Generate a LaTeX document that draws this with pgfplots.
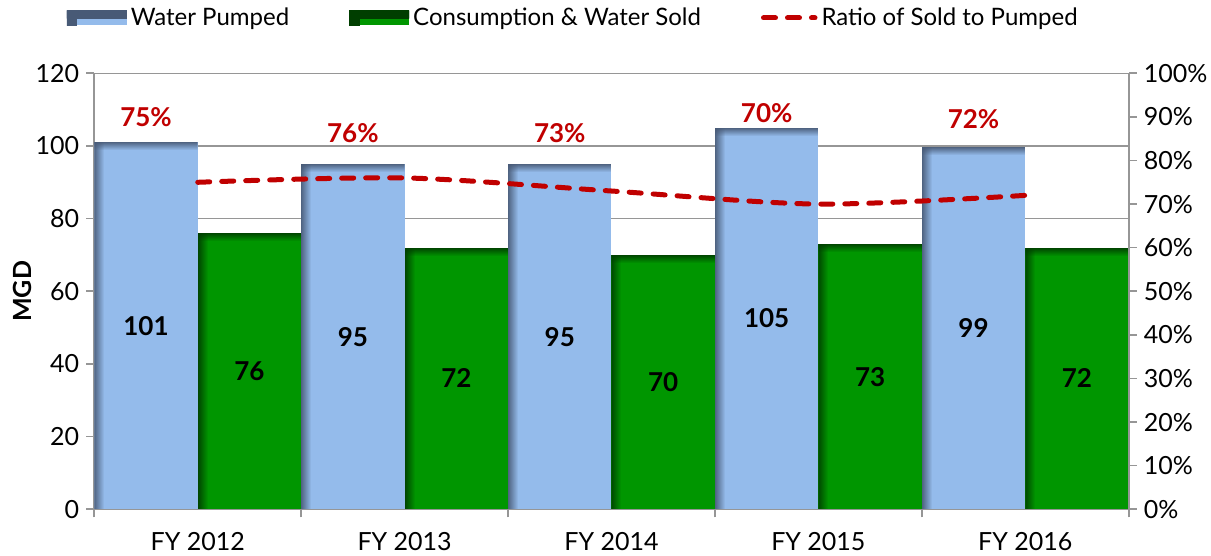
\documentclass[border=0pt]{standalone}
\usepackage{fontspec}
\setmainfont{Lato}
\usepackage{pgfplots}
\usepackage{pgfplotstable}
\pgfplotsset{compat=1.18}
\definecolor{wblue}{RGB}{148,187,235}
\definecolor{wbluedark}{RGB}{72,90,118}
\definecolor{wgreen}{RGB}{0,150,0}
\definecolor{wgreendark}{RGB}{0,62,0}
\definecolor{ratiored}{RGB}{192,0,0}
\definecolor{gridgray}{RGB}{150,150,150}

\pgfplotstableread{
x pumped plab sold ratio ply
0 101   101 76 75 108.0
1 95    95  72 76 103.6
2 95    95  70 73 103.6
3 105   105 73 70 109.0
4 99.7  99  72 72 107.4
}\data

\tikzset{
 edgeshade/.style={path picture={
   \foreach \i in {0,...,7}{
     \pgfmathsetmacro\o{0.9*(1-\i/8)}
     \fill[path picture={}, #1, fill opacity=\o]
       ([yshift=-\i*0.5pt]path picture bounding box.north west) rectangle
       ([yshift=-\i*0.5pt-0.5pt]path picture bounding box.north east);
   }
   \foreach \i in {0,...,9}{
     \pgfmathsetmacro\o{0.9*(1-\i/10)}
     \fill[path picture={}, #1, fill opacity=\o]
       ([xshift=\i*0.5pt]path picture bounding box.south west) rectangle
       ([xshift=\i*0.5pt+0.5pt]path picture bounding box.north west);
   }
 }},
 bluebar/.style={fill=wblue, draw=none, edgeshade=wbluedark},
 greenbar/.style={fill=wgreen, draw=none, edgeshade=wgreendark},
 ratioline/.style={ratiored, line width=2.5pt, line cap=round, dash pattern=on 6pt off 6pt},
}

\begin{document}
\begin{tikzpicture}[font=\fontsize{12.5}{14}\selectfont]
\useasboundingbox (-47.15pt,-23.35pt) rectangle (558.35pt,254.65pt);
\begin{axis}[
  at={(0pt,0pt)}, anchor=south west,
  scale only axis, width=517.2pt, height=218pt,
  xmin=-0.5, xmax=4.5, ymin=0, ymax=120,
  /pgf/number format/assume math mode=true,
  ytick={0,20,...,120},
  ymajorgrids, grid style={gridgray, line width=0.6pt},
  axis x line*=bottom, axis y line*=left,
  axis line style={gridgray, line width=0.8pt},
  tick align=outside, major tick length=4pt,
  tick style={gridgray, line width=0.8pt},
  xtick={0,...,4},
  xticklabels={FY 2012,FY 2013,FY 2014,FY 2015,FY 2016},
  xtick style={draw=none},
  extra x ticks={-0.5,0.5,1.5,2.5,3.5,4.5},
  extra x tick labels={},
  extra x tick style={xtick style={draw=gridgray}, grid=none},
  xticklabel style={yshift=-4pt},
  ylabel={MGD},
  every axis y label/.style={at={(axis description cs:-0.0696,0.5)}, rotate=90, anchor=center, font=\bfseries\fontsize{12.5}{14}\selectfont},
  legend style={at={(0.464,1.127)}, anchor=center, draw=none, fill=none,
    legend columns=3, font=\fontsize{12}{14}\selectfont,
    /tikz/every even column/.append style={column sep=28pt}},
  legend cell align=left,
]
\pgfplotsinvokeforeach{0,...,4}{
\addplot[ybar, bar width=0.5, bar shift=-0.25, bluebar, forget plot, restrict x to domain=#1:#1]
  table[x=x, y=pumped]{\data};
\addplot[ybar, bar width=0.5, bar shift=0.25, greenbar, forget plot, restrict x to domain=#1:#1]
  table[x=x, y=sold]{\data};
}
\addlegendimage{legend image code/.code={\path[bluebar] (0pt,-3.75pt) rectangle (30pt,3.75pt);}}
\addlegendentry{Water Pumped}
\addlegendimage{legend image code/.code={\path[greenbar] (0pt,-3.75pt) rectangle (30pt,3.75pt);}}
\addlegendentry{Consumption \& Water Sold}
\addlegendimage{legend image code/.code={\draw[ratioline] (1.25pt,0pt) -- (27pt,0pt);}}
\addlegendentry{Ratio of Sold to Pumped}
% value labels
\addplot[draw=none, mark=none, forget plot,
  point meta=\thisrow{plab}, nodes near coords,
  visualization depends on=y \as \rawy,
  every node near coord/.append style={anchor=center, text=black, font=\bfseries\fontsize{13}{15}\selectfont,
    shift={(axis direction cs:0,-\rawy/2)}}]
  table[x expr=\thisrow{x}-0.25, y=pumped]{\data};
\addplot[draw=none, mark=none, forget plot,
  point meta=\thisrow{sold}, nodes near coords,
  visualization depends on=y \as \rawy,
  every node near coord/.append style={anchor=center, text=black, font=\bfseries\fontsize{13}{15}\selectfont,
    shift={(axis direction cs:0,-\rawy/2)}}]
  table[x expr=\thisrow{x}+0.25, y=sold]{\data};
% percentage labels
\addplot[draw=none, mark=none, forget plot,
  point meta=\thisrow{ratio},
  nodes near coords={\pgfmathprintnumber{\pgfplotspointmeta}\%},
  every node near coord/.append style={anchor=center, text=ratiored, font=\bfseries\fontsize{13}{15}\selectfont}]
  table[x expr=\thisrow{x}-0.25, y=ply]{\data};
\end{axis}
\begin{axis}[
  at={(0pt,0pt)}, anchor=south west,
  scale only axis, width=517.2pt, height=218pt,
  xmin=-0.5, xmax=4.5, ymin=0, ymax=100,
  /pgf/number format/assume math mode=true,
  hide x axis,
  axis y line*=right,
  axis line style={gridgray, line width=0.8pt},
  tick align=outside, major tick length=4pt,
  tick style={gridgray, line width=0.8pt},
  ytick={0,10,...,100},
  yticklabel={\pgfmathprintnumber{\tick}\%},
]
\addplot[ratioline, smooth] table[x=x, y=ratio]{\data};
\end{axis}
\end{tikzpicture}
\end{document}
